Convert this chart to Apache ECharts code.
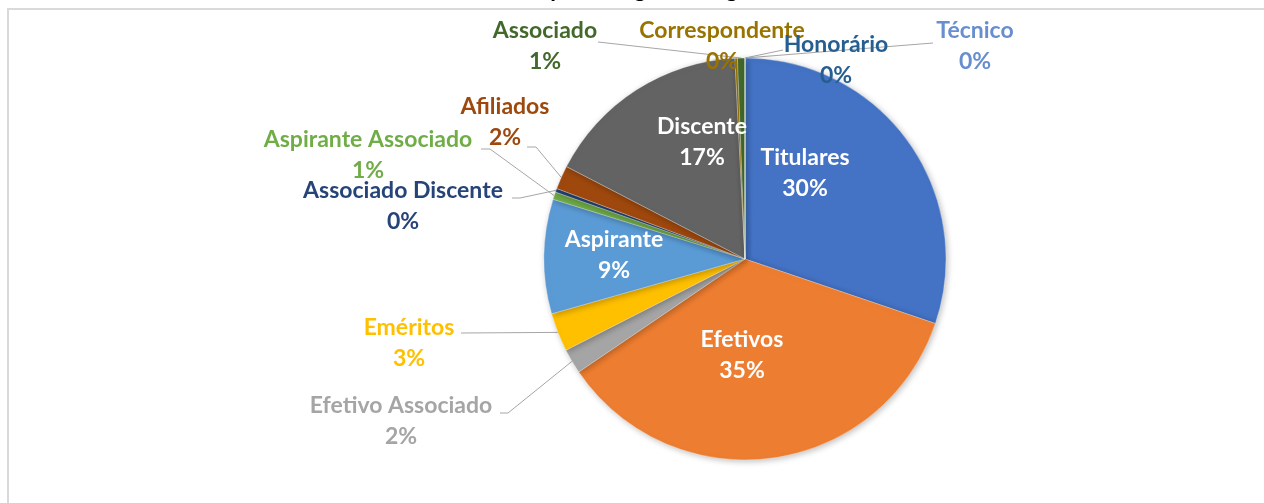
<!DOCTYPE html>
<html><head><meta charset="utf-8">
<script src="https://cdn.jsdelivr.net/npm/echarts@6/dist/echarts.min.js"></script>
<style>html,body{margin:0;padding:0;background:#fff}#c{width:1264px;height:503px}</style>
</head><body><div id="c"></div>
<script>
// ---- data ----
const titleText = 'Membros por categoria – Agosto/2019';
const categories = ['Titulares','Efetivos','Efetivo Associado','Eméritos','Aspirante','Aspirante Associado','Associado Discente','Afiliados','Discente','Correspondente','Associado','Honorário','Técnico'];
const shares = [30.2, 35.3, 2.0, 3.1, 9.2, 0.6, 0.3, 1.9, 16.6, 0.2, 0.6, 0, 0];

// ---- styles ----
const sliceColors = ['#4472C4','#ED7D31','#A5A5A5','#FFC000','#5B9BD5','#70AD47','#264478','#9E480E','#636363','#997300','#43682B','#255E91','#698ED0'];
const insideSet = {'Titulares':1,'Efetivos':1,'Aspirante':1,'Discente':1};
// label block centres (layout)
const labelPos = {
  'Titulares':[805,173], 'Efetivos':[742,355], 'Discente':[702,142], 'Aspirante':[614,255],
  'Eméritos':[409,343], 'Efetivo Associado':[401,421], 'Associado Discente':[403,206],
  'Aspirante Associado':[368,155], 'Afiliados':[505,122], 'Associado':[545,46],
  'Correspondente':[722,46], 'Honorário':[836,60], 'Técnico':[975,46]
};
// elbow points of leader lines (layout)
const lineEnd = {
  'Eméritos':[[461,333]],
  'Efetivo Associado':[[508,413],[500,413]],
  'Associado Discente':[[520,198],[512,198]],
  'Aspirante Associado':[[490,149],[481,149]],
  'Afiliados':[[536,147],[527,147]],
  'Associado':[[598,42]],
  'Honorário':[[783,50]],
  'Técnico':[[933,43]]
};
const FONT = 'Lato';

const chart = echarts.init(document.getElementById('c'), null, {renderer:'canvas'});
const data = categories.map((n,i)=>({
  name:n, value:shares[i],
  itemStyle:{color:sliceColors[i]},
  label:{color: insideSet[n] ? '#ffffff' : sliceColors[i], position: insideSet[n] ? 'inside' : 'outside'},
  labelLine:{show: !insideSet[n] && !!lineEnd[n]}
}));

chart.setOption({
  animation:false,
  backgroundColor:'#ffffff',
  title:{text:titleText, left:642, textAlign:'center', top:-27,
    textStyle:{fontFamily:FONT, fontWeight:'bold', fontSize:23, color:'#000'}},
  graphic:[{type:'rect', shape:{x:8,y:9,width:1270,height:520},
    style:{fill:'none', stroke:'#D9D9D9', lineWidth:2}, silent:true, z:-1}],
  series:[{
    type:'pie',
    center:[745,259],
    radius:201,
    startAngle:90,
    clockwise:true,
    avoidLabelOverlap:false,
    data:data,
    itemStyle:{borderColor:'#ffffff', borderWidth:0.3, shadowBlur:6, shadowColor:'rgba(0,0,0,0.25)', shadowOffsetX:1.5, shadowOffsetY:1.5},
    label:{
      show:true,
      fontFamily:FONT, fontWeight:'bold', fontSize:23, lineHeight:31,
      align:'center',
      formatter:p=>p.name+'\n'+Math.round(p.percent)+'%'
    },
    labelLine:{lineStyle:{color:'#A6A6A6', width:1}, length:10, length2:10},
    labelLayout:function(params){
      const n = categories[params.dataIndex];
      const pos = labelPos[n];
      const out = {x:pos[0], y:pos[1], align:'center', verticalAlign:'middle'};
      if (lineEnd[n] && params.labelLinePoints) {
        const p0 = params.labelLinePoints[0];
        out.labelLinePoints = [p0].concat(lineEnd[n]);
      }
      return out;
    }
  }]
});
</script></body></html>
